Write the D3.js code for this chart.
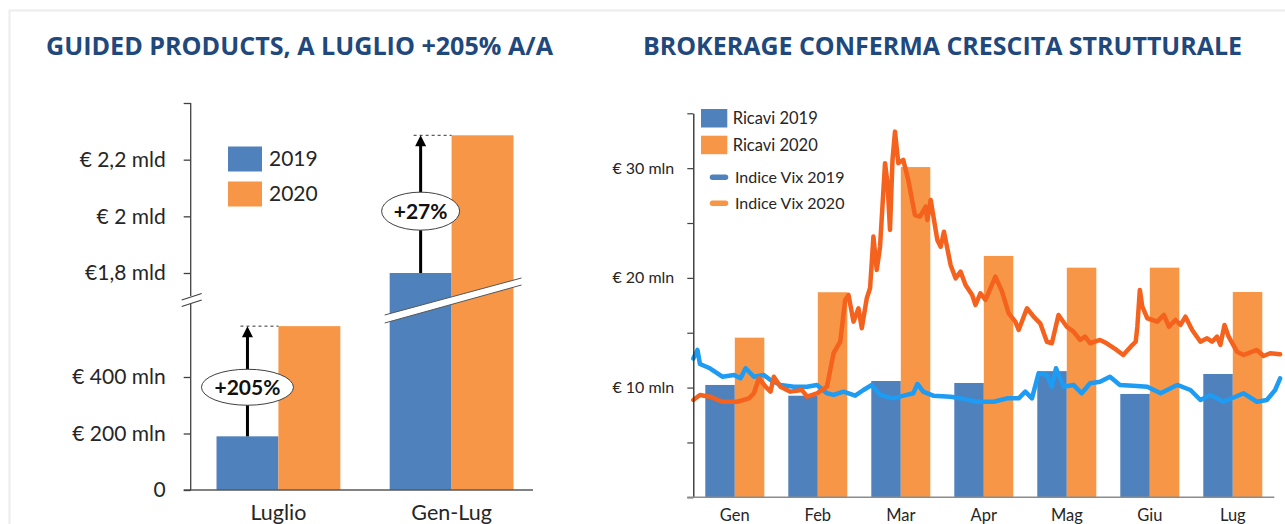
<!DOCTYPE html>
<html>
<head>
<meta charset="utf-8">
<script src="https://cdn.jsdelivr.net/npm/d3@7"></script>
<style>
    body { margin: 0; background: #fff; }
    svg { display: block; font-family: Lato, "Open Sans", sans-serif; }
</style>
</head>
<body>
<div id="chart"></div>
<script>
// ---- left chart: guided products (€ mln) ----
const guidedCategories = ["Luglio", "Gen-Lug"];
const guidedYears = ["2019", "2020"];
const guided2019 = [190, 1800];
const guided2020 = [580, 2286];
const guidedGrowth = ["+205%", "+27%"];
const guidedTickValues = [0, 200, 400, 1800, 2000, 2200, 2400];
const guidedTickLabels = ["0", "€ 200 mln", "€ 400 mln", "€1,8 mld", "€ 2 mld", "€ 2,2 mld", ""];

// ---- right chart: brokerage revenues (€ mln) and VIX index ----
const months = ["Gen", "Feb", "Mar", "Apr", "Mag", "Giu", "Lug"];
const ricavi2019 = [10.24, 9.26, 10.6, 10.42, 11.5, 9.42, 11.24];
const ricavi2020 = [14.55, 18.69, 30.1, 22.0, 20.93, 20.93, 18.71];
const brokerageTickValues = [0, 5, 10, 15, 20, 25, 30, 35];
const brokerageTickLabels = ["", "", "€ 10 mln", "", "€ 20 mln", "", "€ 30 mln", ""];
const seriesNames = ["Ricavi 2019", "Ricavi 2020", "Indice Vix 2019", "Indice Vix 2020"];

// [month position, value on the chart scale]
const vix2019 = [
    [0.00, 12.65], [0.05, 13.43], [0.08, 12.15], [0.20, 11.76], [0.35, 10.99], [0.49, 11.15],
    [0.57, 10.85], [0.63, 11.76], [0.73, 10.99], [0.85, 11.15], [0.93, 10.69], [1.05, 10.24],
    [1.21, 10.08], [1.37, 10.08], [1.49, 10.24], [1.61, 9.48], [1.69, 9.33], [1.81, 9.63],
    [1.95, 9.26], [2.05, 9.78], [2.15, 10.24], [2.25, 9.33], [2.41, 9.02], [2.57, 9.33],
    [2.65, 9.48], [2.70, 10.33], [2.77, 9.63], [2.89, 9.26], [3.10, 9.17], [3.22, 9.02],
    [3.42, 8.71], [3.62, 8.71], [3.78, 9.02], [3.92, 9.02], [4.00, 9.63], [4.08, 9.02],
    [4.16, 11.30], [4.26, 11.15], [4.32, 10.08], [4.37, 11.76], [4.46, 10.08], [4.58, 10.24],
    [4.68, 9.48], [4.78, 10.39], [4.90, 10.54], [5.02, 10.99], [5.14, 10.24], [5.30, 10.17],
    [5.47, 10.08], [5.63, 9.48], [5.83, 10.24], [5.99, 9.78], [6.11, 8.87], [6.23, 9.33],
    [6.39, 8.71], [6.63, 9.48], [6.79, 8.71], [6.91, 8.87], [7.01, 9.78], [7.07, 10.85]
];
const vix2020 = [
    [0.00, 8.87], [0.08, 9.33], [0.20, 9.17], [0.35, 8.71], [0.53, 8.71], [0.67, 9.02],
    [0.73, 9.48], [0.79, 10.85], [0.87, 10.08], [0.93, 9.63], [0.97, 10.99], [1.05, 10.08],
    [1.17, 9.63], [1.31, 9.78], [1.37, 9.17], [1.49, 9.48], [1.61, 10.08], [1.69, 13.13],
    [1.77, 14.18], [1.83, 17.99], [1.87, 18.44], [1.93, 16.01], [1.99, 17.23], [2.03, 15.41],
    [2.09, 18.14], [2.13, 19.08], [2.17, 23.76], [2.21, 20.72], [2.25, 22.84], [2.31, 30.45],
    [2.34, 28.62], [2.37, 24.37], [2.40, 30.75], [2.43, 33.33], [2.47, 30.45], [2.53, 30.75],
    [2.59, 28.92], [2.67, 25.73], [2.73, 25.58], [2.80, 26.49], [2.82, 25.28], [2.86, 27.10],
    [2.94, 23.46], [2.98, 22.84], [3.02, 24.21], [3.10, 21.18], [3.16, 19.96], [3.22, 20.57],
    [3.28, 19.35], [3.36, 18.44], [3.40, 17.53], [3.46, 18.60], [3.52, 17.99], [3.64, 20.11],
    [3.72, 18.74], [3.80, 16.77], [3.88, 16.01], [3.92, 15.25], [4.02, 17.23], [4.10, 16.46],
    [4.18, 15.86], [4.26, 14.18], [4.32, 14.04], [4.40, 16.62], [4.50, 15.55], [4.58, 15.10],
    [4.66, 14.34], [4.72, 14.64], [4.78, 14.04], [4.90, 14.34], [4.98, 14.04], [5.10, 13.43],
    [5.18, 12.97], [5.27, 13.73], [5.33, 14.18], [5.35, 15.55], [5.38, 18.90], [5.41, 17.37],
    [5.47, 16.32], [5.59, 16.01], [5.67, 16.62], [5.73, 15.55], [5.81, 16.16], [5.87, 15.71],
    [5.93, 16.46], [6.01, 15.25], [6.11, 14.18], [6.19, 14.49], [6.25, 14.18], [6.31, 14.64],
    [6.35, 13.88], [6.40, 15.71], [6.45, 14.64], [6.55, 13.27], [6.63, 12.97], [6.79, 13.43],
    [6.87, 12.88], [6.95, 13.13], [7.07, 13.04]
];

const barColors = { "2019": "#4f81bd", "2020": "#f79646" };
const lineColors = { "2019": "#1e9bf2", "2020": "#f5621e" };
const titleColor = "#1f497d";
const textColor = "#262626";

const svg = d3.select("#chart").append("svg")
    .attr("width", 1285)
    .attr("height", 524);

// light frame
svg.append("path")
    .attr("d", "M9.5,524V10.5H1285")
    .attr("fill", "none")
    .attr("stroke", "#ececec")
    .attr("stroke-width", 2);

function addTitle(text, cx, width) {
    svg.append("text")
        .attr("x", cx)
        .attr("y", 55)
        .attr("text-anchor", "middle")
        .attr("textLength", width)
        .attr("lengthAdjust", "spacingAndGlyphs")
        .style("font-family", "'Open Sans', sans-serif")
        .style("font-size", "25px")
        .style("font-weight", "bold")
        .style("fill", titleColor)
        .text(text);
}
addTitle("GUIDED PRODUCTS, A LUGLIO +205% A/A", 299.5, 507);
addTitle("BROKERAGE CONFERMA CRESCITA STRUTTURALE", 942.5, 599);

/* ---------------- left chart ---------------- */
function renderGuided() {
    const axisX = 190.7;
    const baseY = 490;

    // broken scale: lower segment in mln, upper segment around the mld values
    const y = d3.scaleLinear()
        .domain([0, 600, 1800, 2400])
        .range([baseY, 320.5, 273, 103]);

    const x = d3.scaleBand()
        .domain(guidedCategories)
        .range([194, 536])
        .paddingInner(0.285)
        .paddingOuter(0.13);

    const xSub = d3.scaleBand()
        .domain(guidedYears)
        .range([0, x.bandwidth()]);

    const g = svg.append("g");

    const rows = guidedCategories.map((c, i) => ({ cat: c, "2019": guided2019[i], "2020": guided2020[i], growth: guidedGrowth[i] }));

    g.selectAll("g.cat")
        .data(rows)
        .enter().append("g")
        .attr("class", "cat")
        .attr("transform", d => `translate(${x(d.cat)},0)`)
        .selectAll("rect")
        .data(d => guidedYears.map(k => ({ key: k, value: d[k] })))
        .enter().append("rect")
        .attr("x", d => xSub(d.key))
        .attr("y", d => y(d.value))
        .attr("width", xSub.bandwidth())
        .attr("height", d => baseY - y(d.value))
        .attr("fill", d => barColors[d.key]);

    // break across the Gen-Lug bars
    const bx0 = x("Gen-Lug") - 5, bx1 = x("Gen-Lug") + x.bandwidth() + 8;
    const yl = y(600) - 1.5, yr = y(1800) + 9;
    g.append("path")
        .attr("d", `M${bx0},${yl - 4}L${bx1},${yr - 4}L${bx1},${yr + 3}L${bx0},${yl + 4}Z`)
        .attr("fill", "#fff");
    [[-4, -4], [4, 3]].forEach(([a, b]) => {
        g.append("line")
            .attr("x1", bx0).attr("y1", yl + a)
            .attr("x2", bx1).attr("y2", yr + b)
            .attr("stroke", "#555").attr("stroke-width", 1);
    });

    // baseline
    g.append("line")
        .attr("x1", axisX - 7).attr("x2", 533)
        .attr("y1", baseY).attr("y2", baseY)
        .attr("stroke", "#595959").attr("stroke-width", 1.3);

    // y axis in two pieces
    const yAxis = g.append("g")
        .attr("transform", `translate(${axisX},0)`)
        .call(d3.axisLeft(y)
            .tickValues(guidedTickValues)
            .tickFormat((d, i) => guidedTickLabels[i])
            .tickSize(7)
            .tickPadding(18));
    yAxis.select(".domain").remove();
    yAxis.selectAll(".tick line").attr("stroke", "#404040").attr("stroke-width", 1.3);
    yAxis.selectAll(".tick text")
        .style("font-family", "Lato, sans-serif")
        .style("font-size", "21px")
        .style("fill", textColor);

    g.append("line")
        .attr("x1", axisX).attr("x2", axisX)
        .attr("y1", y(2400)).attr("y2", 296)
        .attr("stroke", "#404040").attr("stroke-width", 1.3);
    g.append("line")
        .attr("x1", axisX).attr("x2", axisX)
        .attr("y1", 304).attr("y2", baseY)
        .attr("stroke", "#404040").attr("stroke-width", 1.3);
    [[300, 293.5], [306.5, 300]].forEach(([a, b]) => {
        g.append("line")
            .attr("x1", axisX - 9).attr("y1", a)
            .attr("x2", axisX + 11).attr("y2", b)
            .attr("stroke", "#404040").attr("stroke-width", 1.2);
    });

    // category labels
    g.selectAll("text.cat-label")
        .data(guidedCategories)
        .enter().append("text")
        .attr("class", "cat-label")
        .attr("x", d => x(d) + x.bandwidth() / 2)
        .attr("y", 519.5)
        .attr("text-anchor", "middle")
        .style("font-size", "21.5px")
        .style("fill", textColor)
        .text(d => d);

    // growth arrows
    const ann = [
        { row: rows[0], rx: 46, ry: 18, dy: 6 },
        { row: rows[1], rx: 39, ry: 19, dy: 7 }
    ];
    ann.forEach(a => {
        const ax = x(a.row.cat) + xSub("2019") + xSub.bandwidth() / 2;
        const y0 = y(a.row["2019"]), y1 = y(a.row["2020"]);
        g.append("line")
            .attr("x1", ax - 7).attr("x2", x(a.row.cat) + xSub("2020"))
            .attr("y1", y1).attr("y2", y1)
            .attr("stroke", "#333").attr("stroke-width", 1)
            .attr("stroke-dasharray", "3,3");
        g.append("line")
            .attr("x1", ax).attr("x2", ax)
            .attr("y1", y0).attr("y2", y1 + 9)
            .attr("stroke", "#000").attr("stroke-width", 3);
        g.append("path")
            .attr("d", `M${ax},${y1}L${ax - 5.5},${y1 + 11}L${ax + 5.5},${y1 + 11}Z`)
            .attr("fill", "#000");
        const cy = (y0 + y1) / 2 + a.dy;
        g.append("ellipse")
            .attr("cx", ax).attr("cy", cy)
            .attr("rx", a.rx).attr("ry", a.ry)
            .attr("fill", "#fff")
            .attr("stroke", "#404040").attr("stroke-width", 1);
        g.append("text")
            .attr("x", ax).attr("y", cy)
            .attr("dy", "0.35em")
            .attr("text-anchor", "middle")
            .style("font-size", "21px")
            .style("font-weight", "bold")
            .style("fill", "#111")
            .text(a.row.growth);
    });

    // legend
    const legend = g.append("g").attr("transform", "translate(228,146.5)");
    guidedYears.forEach((k, i) => {
        const item = legend.append("g").attr("transform", `translate(0,${i * 35})`);
        item.append("rect")
            .attr("width", 34).attr("height", 25)
            .attr("fill", barColors[k]);
        item.append("text")
            .attr("x", 41).attr("y", 12.5)
            .attr("dy", "0.35em")
            .style("font-size", "21px")
            .style("fill", textColor)
            .text(k);
    });
}

/* ---------------- right chart ---------------- */
function renderBrokerage() {
    const axisX = 693.3;
    const baseY = 497.3;

    const y = d3.scaleLinear()
        .domain([0, 35])
        .range([baseY, 113.3]);

    const x = d3.scaleBand()
        .domain(months)
        .range([axisX, 1274.3])
        .paddingInner(0.289)
        .paddingOuter(0.1445);

    const xSub = d3.scaleBand()
        .domain(["2019", "2020"])
        .range([0, x.bandwidth()]);

    // month position -> x for the daily VIX lines
    const xm = d3.scaleLinear()
        .domain([0, 7])
        .range([axisX, 1274.3]);

    const g = svg.append("g");

    const rows = months.map((m, i) => ({ month: m, "2019": ricavi2019[i], "2020": ricavi2020[i] }));

    g.selectAll("g.month")
        .data(rows)
        .enter().append("g")
        .attr("class", "month")
        .attr("transform", d => `translate(${x(d.month)},0)`)
        .selectAll("rect")
        .data(d => ["2019", "2020"].map(k => ({ key: k, value: d[k] })))
        .enter().append("rect")
        .attr("x", d => xSub(d.key))
        .attr("y", d => y(d.value))
        .attr("width", xSub.bandwidth())
        .attr("height", d => baseY - y(d.value))
        .attr("fill", d => barColors[d.key]);

    const line = d3.line()
        .x(d => xm(d[0]))
        .y(d => y(d[1]))
        .curve(d3.curveLinear);

    [["2019", vix2019], ["2020", vix2020]].forEach(([k, data]) => {
        g.append("path")
            .datum(data)
            .attr("d", line)
            .attr("fill", "none")
            .attr("stroke", lineColors[k])
            .attr("stroke-width", 4.5)
            .attr("stroke-linejoin", "round")
            .attr("stroke-linecap", "round");
    });

    // axes
    const yAxis = g.append("g")
        .attr("transform", `translate(${axisX},0)`)
        .call(d3.axisLeft(y)
            .tickValues(brokerageTickValues)
            .tickFormat((d, i) => brokerageTickLabels[i])
            .tickSize(6)
            .tickSizeOuter(0)
            .tickPadding(13));
    yAxis.select(".domain").attr("stroke", "#262626").attr("stroke-width", 1.3);
    yAxis.selectAll(".tick line").attr("stroke", "#404040").attr("stroke-width", 1.2);
    yAxis.selectAll(".tick text")
        .style("font-family", "Lato, sans-serif")
        .style("font-size", "16px")
        .style("fill", textColor);

    const xAxis = g.append("g")
        .attr("transform", `translate(0,${baseY})`)
        .call(d3.axisBottom(x).tickSize(0).tickPadding(12));
    xAxis.select(".domain").remove();
    xAxis.selectAll(".tick text")
        .style("font-family", "Lato, sans-serif")
        .style("font-size", "16.5px")
        .style("fill", textColor);
    g.append("line")
        .attr("x1", axisX - 6).attr("x2", 1274.3)
        .attr("y1", baseY).attr("y2", baseY)
        .attr("stroke", "#8c8c8c").attr("stroke-width", 1.5);

    // legend
    const legend = g.append("g").attr("transform", "translate(701,109)");
    ["2019", "2020"].forEach((k, i) => {
        const item = legend.append("g").attr("transform", `translate(0,${i * 26.7})`);
        item.append("rect")
            .attr("width", 26.3).attr("height", 18.5)
            .attr("fill", barColors[k]);
        item.append("text")
            .attr("x", 31.7).attr("y", 9.5)
            .attr("dy", "0.35em")
            .style("font-size", "16.5px")
            .style("fill", textColor)
            .text(seriesNames[i]);
    });
    ["2019", "2020"].forEach((k, i) => {
        const item = legend.append("g").attr("transform", `translate(0,${68.3 + i * 26})`);
        item.append("line")
            .attr("x1", 11.5).attr("x2", 24.5)
            .attr("stroke", barColors[k])
            .attr("stroke-width", 5.5)
            .attr("stroke-linecap", "round");
        item.append("text")
            .attr("x", 34).attr("y", 0)
            .attr("dy", "0.35em")
            .style("font-size", "16px")
            .style("fill", textColor)
            .text(seriesNames[i + 2]);
    });
}

renderGuided();
renderBrokerage();
</script>
</body>
</html>
